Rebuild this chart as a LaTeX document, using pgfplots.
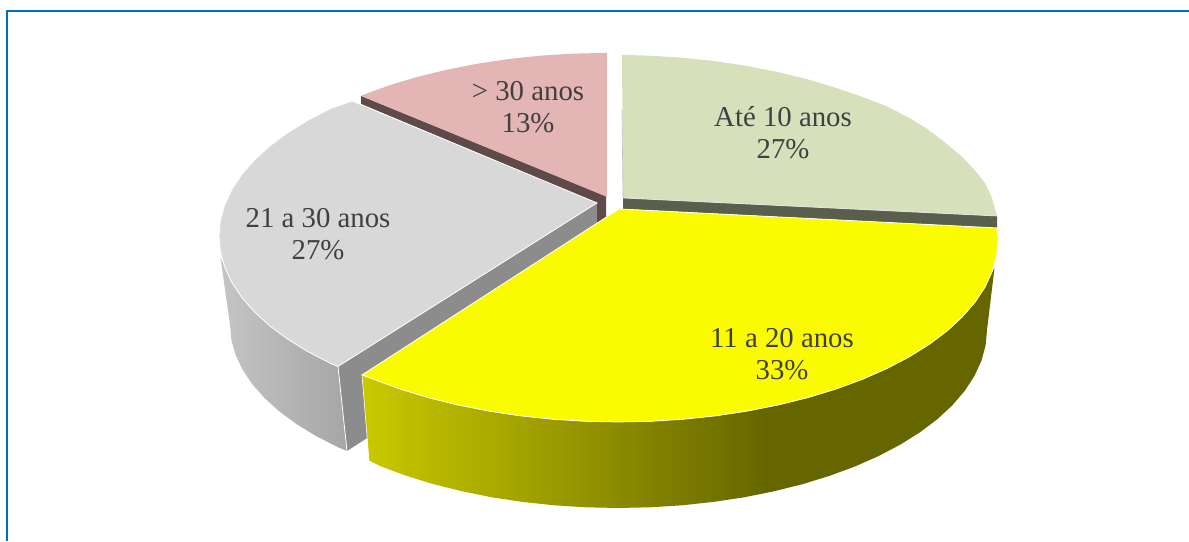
\documentclass[border=0pt]{standalone}
\usepackage{pgfplots}
\pgfplotsset{compat=1.18}
\usepackage{fontspec}
\setmainfont{Liberation Serif}

\definecolor{frameblue}{HTML}{0070C0}
\definecolor{txt}{HTML}{404040}
\definecolor{greentop}{HTML}{D6E1BC}
\definecolor{greenwall}{HTML}{5A5E4D}
\definecolor{yellowtop}{HTML}{FBFB00}
\definecolor{graytop}{HTML}{D8D8D8}
\definecolor{graywall}{HTML}{8C8C8C}
\definecolor{pinktop}{HTML}{E3B5B4}
\definecolor{pinkwall}{HTML}{5D4A49}

% the path box sits between 25bp and 75bp of the shading
\pgfdeclarehorizontalshading{yellowside}{100bp}{
  rgb(0bp)=(0.79,0.79,0);rgb(25bp)=(0.79,0.79,0);
  rgb(57bp)=(0.40,0.40,0);rgb(100bp)=(0.40,0.40,0)}
\pgfdeclarehorizontalshading{grayside}{100bp}{
  rgb(0bp)=(0.77,0.77,0.77);rgb(25bp)=(0.77,0.77,0.77);
  rgb(75bp)=(0.65,0.65,0.65);rgb(100bp)=(0.65,0.65,0.65)}

\begin{document}
\begin{tikzpicture}
\useasboundingbox (0,0) rectangle (594.5pt,270.5pt);
\begin{axis}[
    at={(0,0)}, anchor=south west,
    scale only axis, width=594.5pt, height=270.5pt,
    xmin=0, xmax=1189, ymin=0, ymax=541, y dir=reverse,
    hide axis, clip=true,
    nodes={font=\fontsize{14.4}{16}\selectfont, text=txt, align=center},
  ]
  % frame: only top and left
  \addplot[frameblue, line width=1pt] coordinates {(7,541) (7,11) (1189,11)};

  % 21 a 30 anos: outer side, then inner wall
  \addplot[shading=grayside, draw=none] coordinates {
    (220.4,257) (230,325) (231.4,340.1) (235.6,355) (242.6,369.8) (252.3,384.2)
    (264.6,398.1) (279.4,411.5) (296.7,424.2) (316.3,436.2) (338.1,447.3) (347,451)
    (338,366.5) (330.3,363.3) (307.9,351.7) (287.7,339.2) (269.9,326) (254.6,312.1)
    (241.9,297.6) (231.9,282.6) (224.8,267.3)} -- cycle;
  \addplot[fill=graywall, draw=none] coordinates {
    (338,366.5) (597,203) (597,290) (347,451)} -- cycle;
  \addplot[white, line width=0.4pt] coordinates {(338,366.5) (347,451)};

  % > 30 anos
  \addplot[fill=pinkwall, draw=none] coordinates {
    (361,96) (606,196) (606,222) (597,222) (597,203) (361,104)} -- cycle;
  \addplot[fill=pinktop, draw=none] coordinates {
    (361,96) (362.7,95.1) (389,85.5) (417,77.1) (446.4,69.9) (477,63.9) (508.6,59.1)
    (541,55.7) (573.9,53.7) (607,53) (607,197)} -- cycle;

  % 21 a 30 anos: top
  \addplot[fill=graytop, draw=white, line width=0.4pt] coordinates {
    (597,203) (338,366.5) (330.3,363.3) (307.9,351.7) (287.7,339.2) (269.9,326)
    (254.6,312.1) (241.9,297.6) (231.9,282.6) (224.8,267.3) (220.4,251.7) (219,236)
    (220.4,220.3) (224.8,204.7) (231.9,189.4) (241.9,174.4) (254.6,159.9) (269.9,146)
    (287.7,132.8) (307.9,120.3) (330.3,108.7) (352,101)} -- cycle;

  % Ate 10 anos
  \addplot[fill=greenwall, draw=none] coordinates {
    (623,198) (997,216) (997,228) (623,209)} -- cycle;
  \addplot[fill=greentop, draw=none] coordinates {
    (622,55) (648.4,55.7) (681.5,57.7) (714.1,61.1) (746,65.9) (776.9,71.9) (806.5,79.1)
    (834.7,87.5) (861.2,96.6) (885.8,106) (908.4,117.5) (928.7,130) (946.7,144)
    (962.1,157) (974.9,170.5) (984.9,183) (992,198) (997,216) (623,198)} -- cycle;
  \addplot[white!90!black, line width=0.4pt] coordinates {(623,198) (997,216)};
  \addplot[white!75!black, line width=0.3pt] coordinates {(622,110) (623,198)};

  % 11 a 20 anos: side, then top
  \addplot[shading=yellowside, draw=none] coordinates {
    (362,375) (369,460.5) (380.8,466.4) (406.3,475.8) (433.5,484.2) (462.1,491.3)
    (491.8,497.3) (522.5,501.9) (553.9,505.3) (585.8,507.3) (618,508) (650.2,507.3)
    (682.1,505.3) (713.5,501.9) (744.2,497.3) (773.9,491.3) (802.5,484.2) (829.7,475.8)
    (855.2,466.4) (878.9,455.9) (900.7,444.4) (920.3,432.1) (937.6,419) (952.4,405.2)
    (964.7,390.9) (974.4,376.1) (981.4,360.9) (985.6,345.5) (987,330) (994.5,268)
    (992.2,271.6) (985.1,287.1) (975.1,302.2) (962.4,316.9) (947.1,331) (929.3,344.4)
    (909.1,357) (886.7,368.7) (862.3,379.4) (836,389.1) (808,397.6) (778.6,404.9)
    (748,411) (716.4,415.8) (684,419.2) (651.1,421.3) (618,422) (584.9,421.3) (552,419.2)
    (519.6,415.8) (488,411) (457.4,404.9) (428,397.6) (400,389.1) (373.7,379.4)} -- cycle;
  \addplot[white, line width=0.3pt] coordinates {(362,375) (369,460.5)};
  \addplot[fill=yellowtop, draw=white, line width=0.4pt] coordinates {
    (619,209) (997,228) (998,240) (996.6,255.9) (992.2,271.6) (985.1,287.1) (975.1,302.2)
    (962.4,316.9) (947.1,331) (929.3,344.4) (909.1,357) (886.7,368.7) (862.3,379.4)
    (836,389.1) (808,397.6) (778.6,404.9) (748,411) (716.4,415.8) (684,419.2) (651.1,421.3)
    (618,422) (584.9,421.3) (552,419.2) (519.6,415.8) (488,411) (457.4,404.9) (428,397.6)
    (400,389.1) (373.7,379.4) (362,375)} -- cycle;

  \node at (axis cs:783,133) {Até 10 anos\\27\%};
  \node at (axis cs:782,354) {11 a 20 anos\\33\%};
  \node at (axis cs:318,234) {21 a 30 anos\\27\%};
  \node at (axis cs:528,107) {> 30 anos\\13\%};
\end{axis}
\end{tikzpicture}
\end{document}
